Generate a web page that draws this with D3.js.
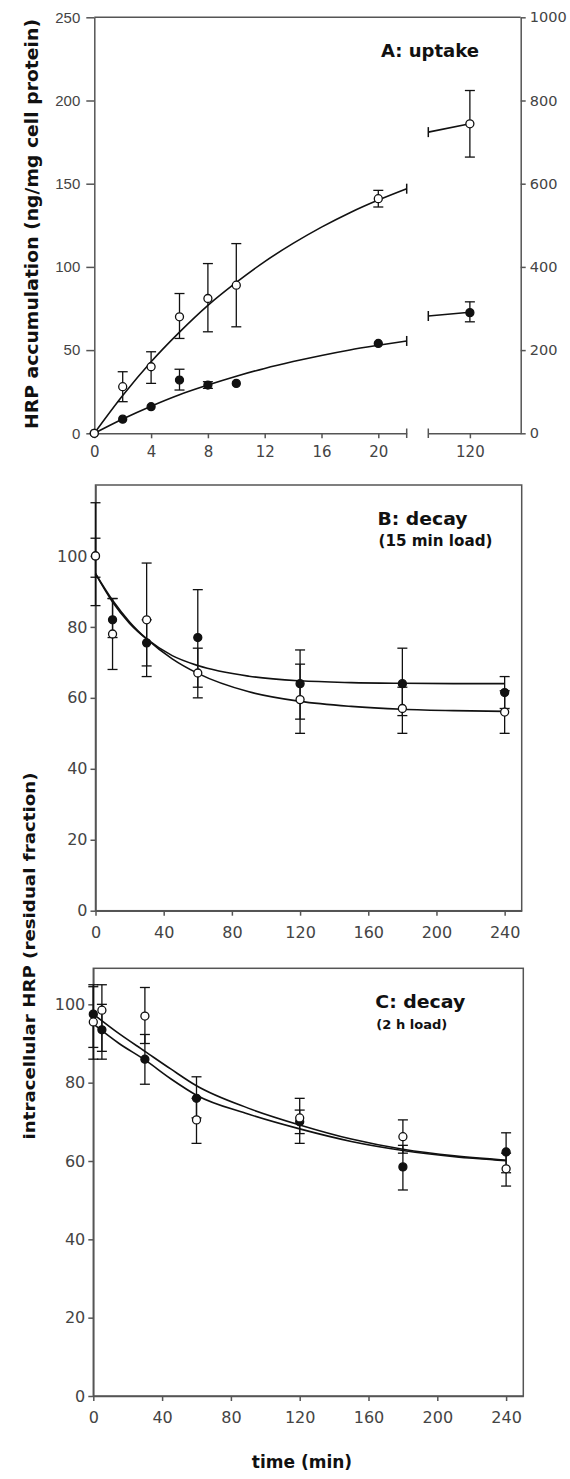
<!DOCTYPE html>
<html>
<head>
<meta charset="utf-8">
<script src="https://cdn.jsdelivr.net/npm/d3@7"></script>
<style>
  body { margin: 0; background: #fff; }
  svg { display: block; font-family: "DejaVu Sans", sans-serif; }
</style>
</head>
<body>
<svg width="570" height="1479"></svg>
<script>
// ---- panel A: uptake ----
var tA = [0, 2, 4, 6, 8, 10, 20, 120];
var openA = [0, 28, 40, 70, 81, 89, 141, 186];
var openALo = [null, 19, 30, 57, 61, 64, 136, 166];
var openAHi = [null, 37, 49, 84, 102, 114, 146, 206];
var fillA = [0, 8.5, 16, 32, 29, 30, 54, 72.5];
var fillALo = [null, null, null, 26, 27, null, null, 67];
var fillAHi = [null, null, null, 38.5, 31, null, null, 79];
// fitted curves
var fitAx = [0, 2, 4, 6, 8, 10, 12, 14, 16, 18, 20, 22];
var fitAOpen = [0, 22.7, 43, 60.8, 76.9, 90.7, 103.2, 114.1, 123.9, 132.6, 140.2, 147];
var fitAFill = [0, 8.6, 16.3, 23.2, 29, 34.3, 39, 43.1, 46.8, 50.1, 52.9, 55.5];
var fitA2x = [102, 120];
var fitA2Open = [181, 186];
var fitA2Fill = [70.5, 72.7];
var ticksA1 = [0, 4, 8, 12, 16, 20];
var ticksA2 = [120];
var ticksAL = [0, 50, 100, 150, 200, 250];
var ticksAR = [0, 200, 400, 600, 800, 1000];

// ---- panel B: decay, 15 min load ----
var tB = [0, 10, 30, 60, 120, 180, 240];
var openB = [100, 78, 82, 67, 59.5, 57, 56];
var openBLo = [86, 68, 66, 60, 50, 50, 50];
var openBHi = [115, 88, 98, 74, 69.5, 63, 62];
var fillB = [100, 82, 75.5, 77, 64, 64, 61.5];
var fillBLo = [94, 77, 69, 63, 54, 55, 57];
var fillBHi = [105, 88, 82, 90.5, 73.5, 74, 66];
var fitBx = [0, 10, 20, 30, 45, 60, 90, 120, 150, 180, 210, 240];
var fitBFill = [95, 87, 81, 76.6, 71.9, 69.1, 66.1, 64.8, 64.3, 64.1, 64, 64];
var fitBOpen = [95, 87.5, 81.4, 76.6, 71, 66.9, 61.7, 59, 57.6, 56.8, 56.4, 56.2];

// ---- panel C: decay, 2 h load ----
var tC = [0, 5, 30, 60, 120, 180, 240];
var openC = [95.5, 98.5, 97, 70.5, 71, 66.2, 58];
var openCLo = [86, 86, 90, 64.5, 67, 62, 53.6];
var openCHi = [105, 105, 104.3, 76, 76, 70.5, 62];
var fillC = [97.5, 93.5, 86, 76, 70, 58.5, 62.3];
var fillCLo = [89, 88, 79.6, 71, 64.5, 52.6, 57];
var fillCHi = [104.5, 100, 92.3, 81.5, 73, 64, 67.2];
var fitCx = [0, 15, 30, 45, 60, 90, 120, 150, 180, 210, 240];
var fitCUpper = [97.5, 92.5, 88, 83.5, 79.2, 73.5, 69.2, 65.6, 63, 61.3, 60.2];
var fitCLower = [95, 90, 85.8, 81, 76.8, 72, 68.2, 65, 62.7, 61.1, 60.1];

var ticksDecayX = [0, 40, 80, 120, 160, 200, 240];
var ticksDecayY = [0, 20, 40, 60, 80, 100];

var AXIS = "#555", TXT = "#444", INK = "#111";

var svg = d3.select("svg");

function styleAxis(sel, fs) {
  sel.selectAll("path, line").attr("stroke", AXIS).attr("stroke-width", 1.5);
  sel.selectAll("text").attr("fill", TXT).attr("font-size", fs)
    .attr("font-family", "DejaVu Sans, sans-serif");
}

function zip(xs, ys) { return xs.map(function(v, i) { return [v, ys[i]]; }); }

function curve(g, x, y, xs, ys) {
  g.append("path")
    .datum(zip(xs, ys))
    .attr("fill", "none").attr("stroke", INK).attr("stroke-width", 1.6)
    .attr("d", d3.line().x(function(d) { return x(d[0]); }).y(function(d) { return y(d[1]); })
      .curve(d3.curveMonotoneX));
}

function points(g, x, y, t, m, lo, hi) {
  var data = t.map(function(v, i) { return { t: v, m: m[i], lo: lo[i], hi: hi[i] }; });
  var eb = g.append("g").attr("stroke", INK).attr("stroke-width", 1.3);
  data.filter(function(d) { return d.lo != null; }).forEach(function(d) {
    var cx = x(d.t);
    eb.append("line").attr("x1", cx).attr("x2", cx).attr("y1", y(d.lo)).attr("y2", y(d.hi));
    eb.append("line").attr("x1", cx - 5).attr("x2", cx + 5).attr("y1", y(d.lo)).attr("y2", y(d.lo));
    eb.append("line").attr("x1", cx - 5).attr("x2", cx + 5).attr("y1", y(d.hi)).attr("y2", y(d.hi));
  });
  return data;
}

function dots(g, x, y, data, filled) {
  g.append("g").selectAll("circle").data(data).enter().append("circle")
    .attr("cx", function(d) { return x(d.t); })
    .attr("cy", function(d) { return y(d.m); })
    .attr("r", 4)
    .attr("fill", filled ? INK : "#fff")
    .attr("stroke", INK).attr("stroke-width", 1.3);
}

// ================= panel A =================
var gA = svg.append("g");
var xA1 = d3.scaleLinear().domain([0, 22]).range([94.3, 406.7]);
var xA2 = d3.scaleLinear().domain([102, 142]).range([428.3, 520.7]);
var xA = function(t) { return t <= 22 ? xA1(t) : xA2(t); };
var yA = d3.scaleLinear().domain([0, 250]).range([433.3, 17.3]);
var yA2 = d3.scaleLinear().domain([0, 1000]).range([433.3, 17.3]);

gA.append("line").attr("x1", 94.3).attr("x2", 520.7).attr("y1", 17.3).attr("y2", 17.3)
  .attr("stroke", AXIS).attr("stroke-width", 1.5);

gA.append("g").attr("transform", "translate(0,433.3)")
  .call(d3.axisBottom(xA1).tickValues(ticksA1).tickSize(5).tickSizeOuter(0).tickPadding(8))
  .call(styleAxis, 15);
gA.append("g").attr("transform", "translate(0,433.3)")
  .call(d3.axisBottom(xA2).tickValues(ticksA2).tickSize(5).tickSizeOuter(0).tickPadding(8))
  .call(styleAxis, 15);
// axis break caps
[xA1(22), xA2(102)].forEach(function(px) {
  gA.append("line").attr("x1", px).attr("x2", px).attr("y1", 428.5).attr("y2", 438)
    .attr("stroke", AXIS).attr("stroke-width", 1.5);
});
gA.append("g").attr("transform", "translate(94.3,0)")
  .call(d3.axisLeft(yA).tickValues(ticksAL).tickSize(8).tickSizeOuter(0).tickPadding(6))
  .call(styleAxis, 15)
  .selectAll("text").attr("font-family", "Liberation Sans, Arial, sans-serif");
gA.append("g").attr("transform", "translate(520.7,0)")
  .call(d3.axisRight(yA2).tickValues(ticksAR).tickFormat(d3.format("d"))
    .tickSize(5).tickSizeOuter(0).tickPadding(4))
  .call(styleAxis, 14.5);

curve(gA, xA1, yA, fitAx, fitAOpen);
curve(gA, xA1, yA, fitAx, fitAFill);
curve(gA, xA2, yA, fitA2x, fitA2Open);
curve(gA, xA2, yA, fitA2x, fitA2Fill);
// break caps on the fitted curves
[[xA1(22), fitAOpen[fitAOpen.length - 1]], [xA1(22), fitAFill[fitAFill.length - 1]],
 [xA2(102), fitA2Open[0]], [xA2(102), fitA2Fill[0]]].forEach(function(c) {
  gA.append("line").attr("x1", c[0]).attr("x2", c[0]).attr("y1", yA(c[1]) - 5).attr("y2", yA(c[1]) + 5)
    .attr("stroke", INK).attr("stroke-width", 1.5);
});

var dAo = points(gA, xA, yA, tA, openA, openALo, openAHi);
var dAf = points(gA, xA, yA, tA, fillA, fillALo, fillAHi);
dots(gA, xA, yA, dAf, true);
dots(gA, xA, yA, dAo, false);

gA.append("text").attr("x", 381).attr("y", 56.5)
  .attr("font-size", 18).attr("font-weight", "bold").attr("fill", INK)
  .attr("textLength", 98).attr("lengthAdjust", "spacingAndGlyphs")
  .text("A: uptake");

gA.append("text").attr("transform", "translate(38,224) rotate(-90)")
  .attr("text-anchor", "middle").attr("font-size", 18).attr("font-weight", "bold").attr("fill", INK)
  .attr("textLength", 410).attr("lengthAdjust", "spacingAndGlyphs")
  .text("HRP accumulation (ng/mg cell protein)");

// ================= decay panels =================
function decayPanel(box, yMax, t, oM, oLo, oHi, fM, fLo, fHi, fitX, fitA, fitB, title, sub, subSize, subLen) {
  var g = svg.append("g");
  var x = d3.scaleLinear().domain([0, 250]).range([box.l, box.r]);
  var y = d3.scaleLinear().domain([0, yMax]).range([box.b, box.t]);

  g.append("rect").attr("x", box.l).attr("y", box.t)
    .attr("width", box.r - box.l).attr("height", box.b - box.t)
    .attr("fill", "none").attr("stroke", AXIS).attr("stroke-width", 1.5);

  g.append("g").attr("transform", "translate(0," + box.b + ")")
    .call(d3.axisBottom(x).tickValues(ticksDecayX).tickSize(5).tickSizeOuter(0).tickPadding(11))
    .call(styleAxis, 16);
  g.append("g").attr("transform", "translate(" + box.l + ",0)")
    .call(d3.axisLeft(y).tickValues(ticksDecayY).tickSize(5).tickSizeOuter(0).tickPadding(3))
    .call(styleAxis, 16);

  curve(g, x, y, fitX, fitA);
  curve(g, x, y, fitX, fitB);

  var dO = points(g, x, y, t, oM, oLo, oHi);
  var dF = points(g, x, y, t, fM, fLo, fHi);
  dots(g, x, y, dF, true);
  dots(g, x, y, dO, false);

  g.append("text").attr("x", box.l + 282).attr("y", box.t + 40)
    .attr("font-size", 18).attr("font-weight", "bold").attr("fill", INK)
    .attr("textLength", 90).attr("lengthAdjust", "spacingAndGlyphs")
    .text(title);
  g.append("text").attr("x", box.l + 283).attr("y", box.t + 61)
    .attr("font-size", subSize).attr("font-weight", "bold").attr("fill", INK)
    .attr("textLength", subLen).attr("lengthAdjust", "spacingAndGlyphs")
    .text(sub);
}

decayPanel({ l: 95.5, r: 521.7, t: 485, b: 910.7 }, 120,
  tB, openB, openBLo, openBHi, fillB, fillBLo, fillBHi,
  fitBx, fitBFill, fitBOpen, "B: decay", "(15 min load)", 15, 114);

decayPanel({ l: 93.3, r: 523.3, t: 968.3, b: 1396 }, 109.2,
  tC, openC, openCLo, openCHi, fillC, fillCLo, fillCHi,
  fitCx, fitCUpper, fitCLower, "C: decay", "(2 h load)", 13, 71);

svg.append("text").attr("transform", "translate(35,956) rotate(-90)")
  .attr("text-anchor", "middle").attr("font-size", 16).attr("font-weight", "bold").attr("fill", INK)
  .attr("textLength", 367).attr("lengthAdjust", "spacingAndGlyphs")
  .text("intracellular HRP (residual fraction)");

svg.append("text").attr("x", 302).attr("y", 1468)
  .attr("text-anchor", "middle").attr("font-size", 17).attr("font-weight", "bold").attr("fill", INK)
  .text("time (min)");
</script>
</body>
</html>
